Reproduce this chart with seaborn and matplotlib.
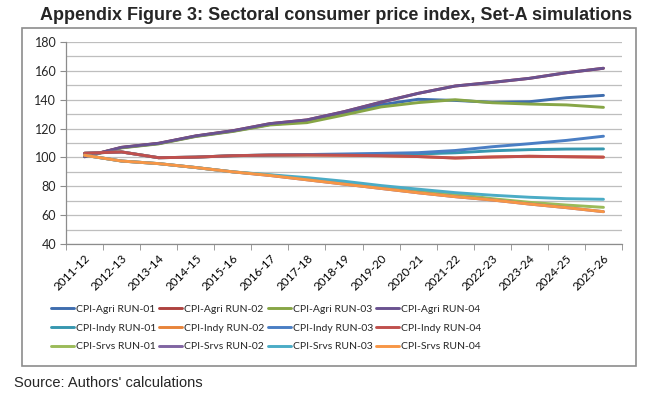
import pandas as pd
import seaborn as sns
import matplotlib.pyplot as plt
from matplotlib.patches import Rectangle
from matplotlib.ticker import MultipleLocator

years = ['2011-12', '2012-13', '2013-14', '2014-15', '2015-16', '2016-17', '2017-18',
         '2018-19', '2019-20', '2020-21', '2021-22', '2022-23', '2023-24', '2024-25', '2025-26']

# series values
agri_run01 = [100.5, 106.8, 109.6, 114.7, 118.2, 122.8, 124.8, 130.6, 136.5, 140.3, 139.5, 138.2, 138.6, 141.4, 143.0]
agri_run02 = [100.5, 107.0, 109.8, 114.9, 118.5, 123.4, 126.0, 131.7, 138.3, 144.4, 149.5, 152.0, 154.8, 158.7, 161.8]
agri_run03 = [100.5, 106.6, 109.4, 114.5, 118.0, 122.5, 124.1, 129.4, 135.0, 138.0, 140.0, 137.9, 137.0, 136.4, 134.7]
agri_run04 = [100.5, 107.0, 109.8, 114.9, 118.5, 123.4, 126.0, 131.7, 138.3, 144.4, 149.5, 152.0, 154.8, 158.7, 161.8]
indy_run01 = [102.9, 103.8, 99.8, 100.2, 101.2, 101.6, 101.8, 102.0, 102.2, 102.4, 103.2, 104.6, 105.4, 105.8, 105.9]
indy_run02 = [102.9, 103.8, 99.8, 100.2, 101.2, 101.6, 101.7, 101.5, 101.2, 100.6, 99.6, 100.3, 100.8, 100.5, 100.2]
indy_run03 = [102.9, 103.8, 99.8, 100.2, 101.2, 101.7, 102.0, 102.4, 102.8, 103.3, 104.8, 107.4, 109.5, 111.8, 114.7]
indy_run04 = [102.9, 103.8, 99.8, 100.2, 101.2, 101.6, 101.7, 101.5, 101.2, 100.6, 99.6, 100.3, 100.8, 100.5, 100.2]
srvs_run01 = [101.5, 97.5, 95.7, 93.0, 90.0, 87.8, 85.0, 82.3, 79.5, 77.0, 74.6, 71.4, 68.9, 67.0, 65.4]
srvs_run02 = [101.5, 97.5, 95.7, 93.0, 90.0, 87.5, 84.5, 81.5, 78.5, 75.5, 72.8, 70.5, 67.7, 65.2, 62.4]
srvs_run03 = [101.5, 97.5, 95.7, 93.0, 90.0, 88.0, 86.0, 83.5, 80.5, 78.0, 75.6, 73.8, 72.4, 71.4, 71.0]
srvs_run04 = [101.5, 97.5, 95.7, 93.0, 90.0, 87.5, 84.5, 81.5, 78.5, 75.5, 72.8, 70.5, 67.7, 65.2, 62.4]

series_names = ['CPI-Agri RUN-01', 'CPI-Agri RUN-02', 'CPI-Agri RUN-03', 'CPI-Agri RUN-04',
                'CPI-Indy RUN-01', 'CPI-Indy RUN-02', 'CPI-Indy RUN-03', 'CPI-Indy RUN-04',
                'CPI-Srvs RUN-01', 'CPI-Srvs RUN-02', 'CPI-Srvs RUN-03', 'CPI-Srvs RUN-04']
series_values = [agri_run01, agri_run02, agri_run03, agri_run04,
                 indy_run01, indy_run02, indy_run03, indy_run04,
                 srvs_run01, srvs_run02, srvs_run03, srvs_run04]
colors = ['#3F6DAE', '#AE423F', '#87A646', '#6A5290',
          '#3797AF', '#E8843A', '#4A7EC4', '#C0504D',
          '#9BBB59', '#8064A2', '#4BACC6', '#F79646']

rows = []
for name, vals in zip(series_names, series_values):
    for yr, v in zip(years, vals):
        rows.append({'year': yr, 'value': v, 'series': name})
df = pd.DataFrame(rows)

sns.set_style('white')
plt.rcParams['font.family'] = ['Lato', 'DejaVu Sans']

fig = plt.figure(figsize=(6.5, 3.99), dpi=100)
ax = fig.add_axes([66 / 650, 1 - 244 / 399, 556 / 650, 202 / 399])

sns.lineplot(data=df, x='year', y='value', hue='series', hue_order=series_names,
             palette=dict(zip(series_names, colors)), sort=False, linewidth=2.1,
             ax=ax, legend=True)

ax.set_xlim(-0.5, len(years) - 0.5)
ax.set_ylim(40, 180)
ax.yaxis.set_major_locator(MultipleLocator(20))
ax.yaxis.set_minor_locator(MultipleLocator(10))
ax.grid(True, which='both', axis='y', color='#BEBEBE', linewidth=0.9)
ax.grid(False, axis='x')
ax.set_axisbelow(True)
ax.set_xlabel('')
ax.set_ylabel('')

for s in ['top', 'right']:
    ax.spines[s].set_visible(False)
for s in ['left', 'bottom']:
    ax.spines[s].set_color('#8C8C8C')
    ax.spines[s].set_linewidth(0.9)

ax.set_xticks(range(len(years)))
ax.set_xticklabels(years, rotation=45, ha='right', rotation_mode='anchor')
ax.set_xticks([i + 0.5 for i in range(-1, len(years))], minor=True)
ax.tick_params(axis='x', which='major', length=0, pad=6, labelsize=8.5, colors='#000000')
ax.tick_params(axis='x', which='minor', length=4, color='#8C8C8C', direction='out', bottom=True)
ax.tick_params(axis='y', which='major', length=4, color='#8C8C8C', direction='out', left=True,
               labelsize=9, pad=3)
ax.tick_params(axis='y', which='minor', length=0)

handles, labels = ax.get_legend_handles_labels()
ax.get_legend().remove()
order = [0, 4, 8, 1, 5, 9, 2, 6, 10, 3, 7, 11]
fig.legend([handles[i] for i in order], [labels[i] for i in order],
           loc='center', bbox_to_anchor=(266 / 650, 1 - 328 / 399), ncol=4, frameon=False,
           fontsize=7.5, handlelength=2.2, handletextpad=0.2, columnspacing=0.3,
           labelspacing=0.9)

fig.patches.append(Rectangle((22 / 650, 1 - 366 / 399), 614 / 650, 338 / 399,
                             transform=fig.transFigure, fill=False,
                             edgecolor='#8C8C8C', linewidth=1.2))

fig.text(0.517, 0.962, 'Appendix Figure 3: Sectoral consumer price index, Set-A simulations',
         ha='center', va='center', fontsize=13, fontweight='bold', family='Liberation Sans')
fig.text(14 / 650, 1 - 383 / 399, "Source: Authors' calculations",
         ha='left', va='center', fontsize=10.5, family='Liberation Sans')

plt.savefig('out.png', dpi=100)
